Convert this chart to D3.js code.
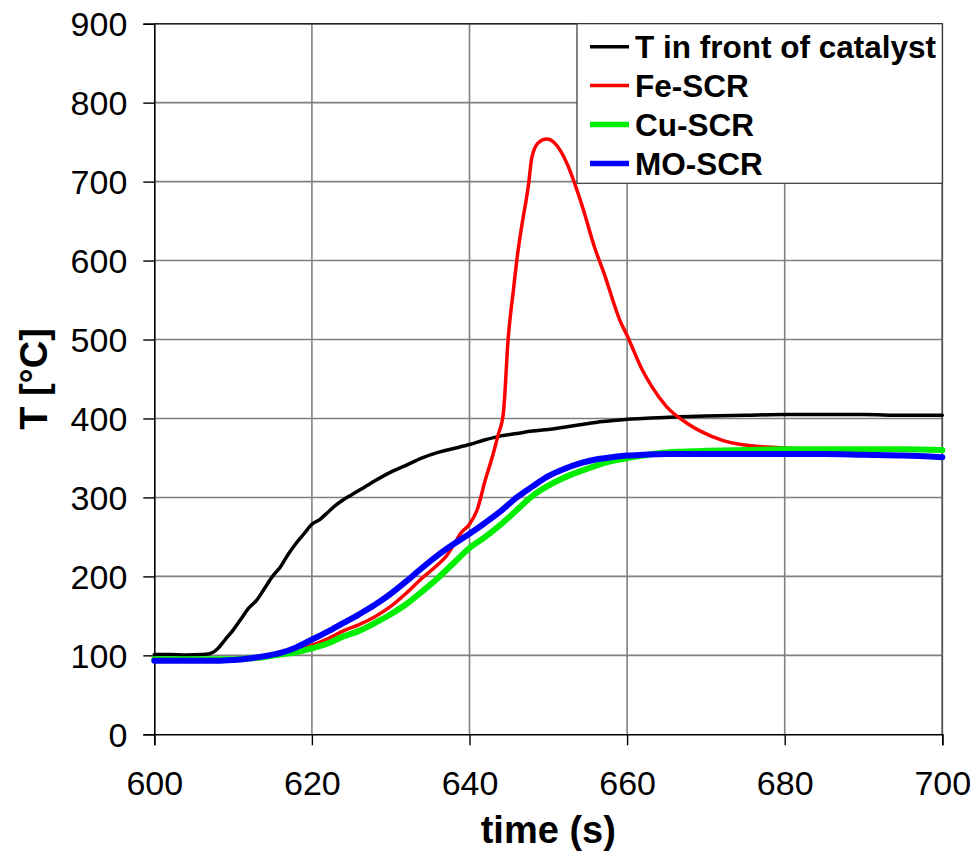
<!DOCTYPE html>
<html>
<head>
<meta charset="utf-8">
<script src="https://cdn.jsdelivr.net/npm/d3@7"></script>
<style>
  html, body { margin: 0; padding: 0; background: #fff; }
  svg { display: block; font-family: "Liberation Sans", Arial, sans-serif; }
</style>
</head>
<body>
<svg id="chart" width="973" height="852"></svg>
<script>
// Time axis (s) and temperature (°C) readings for each sensor
const tFront = [
  [600,101],[602,101],[604,100.5],[606,101],[607,102],[608,108],[609,120],[610,132],
  [611,146],[612,160],[613,170],[614,185],[615,200],[616,212],[617,228],[618,242],
  [619,254],[620,266],[621,272],[622,281],[623,290],[624,297],[625,303],[626,309],
  [627,315],[628,321],[630,332],[632,341],[634,350],[636,357],[638,362],[640,367],
  [642,373],[644,378],[646,381],[648,384],[650,386],[652,389],[654,392],[656,395],
  [658,397],[660,399],[662,400],[664,401],[666,402],[670,403],[675,404],[680,405],
  [685,405],[690,405],[695,404],[700,404]
];
const feSCR = [
  [600,94],[610,94],[614,98],[616,102],[618,107],[620,113],[622,121],[624,131],
  [626,139],[628,149],[630,162],[632,179],[634,198],[636,215],[637,225],[638,240],
  [639,256],[640,266],[641,285],[642,322],[643,355],[643.6,378],[644.3,407],[644.9,500],
  [645.6,565],[646.1,608],[646.6,642],[647.5,697],[647.9,730],[648.7,749],[649.8,754],
  [650.8,749],[652.5,720],[653.3,699],[654.4,666],[655.9,616],[657,586],[659.1,524],
  [660,505],[661.9,462],[663.1,441],[665,415],[667.6,394],[669.3,384],[672.2,372],
  [675.2,366],[679.4,363],[685,361],[690,361],[700,360]
];
const cuSCR = [
  [600,95],[604,95],[608,95],[610,95],[612,96],[614,98],[616,101],[618,104],[620,109],
  [622,115],[624,124],[626,131],[628,141],[630,152],[632,165],[634,181],[636,198],
  [638,217],[640,236],[642,250],[644,266],[646,284],[648,302],[650,315],[652,325],
  [654,333],[656,340],[658,346],[660,350],[662,353],[664,356],[667,358],[670,359],
  [675,360],[680,361],[685,361],[690,361],[695,361],[700,360]
];
const moSCR = [
  [600,93],[604,93],[608,93],[610,94],[612,96],[614,99],[616,103],[618,110],[620,120],
  [622,130],[624,141],[626,152],[628,164],[630,178],[632,194],[634,211],[636,227],
  [638,241],[640,254],[642,268],[644,283],[646,300],[648,314],[650,327],[652,336],
  [654,343],[656,348],[658,351],[660,353],[662,354],[665,355],[670,355],[675,355],
  [680,355],[685,355],[690,354],[695,353],[700,351]
];

const xTicks = [600, 620, 640, 660, 680, 700];
const yTicks = [0, 100, 200, 300, 400, 500, 600, 700, 800, 900];
const seriesNames = ["T in front of catalyst", "Fe-SCR", "Cu-SCR", "MO-SCR"];
const seriesColors = ["#000000", "#ff0000", "#00ee00", "#0000ff"];
const seriesWidths = [3.5, 3.5, 6, 6];
const seriesData = [tFront, feSCR, cuSCR, moSCR];

const svg = d3.select("#chart");
const plotL = 154.3, plotR = 942.3, plotT = 23.7, plotB = 734.3;

const x = d3.scaleLinear().domain([600, 700]).range([plotL, plotR]);
const y = d3.scaleLinear().domain([0, 900]).range([plotB, plotT]);

// Grid lines
const grid = svg.append("g");
grid.selectAll("line.h").data(yTicks.filter(d => d > 0)).join("line")
  .attr("class", "h")
  .attr("x1", plotL).attr("x2", plotR)
  .attr("y1", d => y(d)).attr("y2", d => y(d))
  .attr("stroke", "#808080").attr("stroke-width", 1.6);
grid.selectAll("line.v").data(xTicks.filter(d => d > 600)).join("line")
  .attr("class", "v")
  .attr("y1", plotT).attr("y2", plotB)
  .attr("x1", d => x(d)).attr("x2", d => x(d))
  .attr("stroke", "#808080").attr("stroke-width", 1.6);

// Top and right frame
svg.append("line").attr("x1", plotL).attr("x2", plotR).attr("y1", plotT).attr("y2", plotT)
  .attr("stroke", "#222").attr("stroke-width", 1.6);
svg.append("line").attr("x1", plotR).attr("x2", plotR).attr("y1", plotT).attr("y2", plotB)
  .attr("stroke", "#555").attr("stroke-width", 1.6);

// Axes
const xAxis = d3.axisBottom(x).tickValues(xTicks).tickSize(11).tickPadding(26)
  .tickFormat(d3.format("d"));
const yAxis = d3.axisLeft(y).tickValues(yTicks).tickSize(11).tickPadding(16)
  .tickFormat(d3.format("d"));

const gx = svg.append("g").attr("transform", `translate(0,${plotB})`).call(xAxis);
const gy = svg.append("g").attr("transform", `translate(${plotL},0)`).call(yAxis);
[gx, gy].forEach(g => {
  g.select(".domain").attr("stroke", "#000").attr("stroke-width", 1.6);
  g.selectAll(".tick line").attr("stroke", "#000").attr("stroke-width", 1.4);
  g.selectAll(".tick text").attr("fill", "#000")
    .style("font-family", "'Liberation Sans', Arial, sans-serif")
    .style("font-size", "34px");
});
gx.selectAll(".tick text").attr("dy", "0.71em");
gy.selectAll(".tick text").attr("dy", "0.35em");

// Axis titles
svg.append("text")
  .attr("x", (plotL + plotR) / 2).attr("y", 843)
  .attr("text-anchor", "middle")
  .style("font-size", "38px").style("font-weight", "bold")
  .text("time (s)");
svg.append("text")
  .attr("transform", `translate(47,${(plotT + plotB) / 2}) rotate(-90)`)
  .attr("text-anchor", "middle")
  .style("font-size", "38px").style("font-weight", "bold")
  .text("T [°C]");

// Temperature traces
const line = d3.line()
  .x(d => x(d[0])).y(d => y(d[1]))
  .curve(d3.curveMonotoneX);

svg.append("g").selectAll("path").data(seriesData).join("path")
  .attr("d", line)
  .attr("fill", "none")
  .attr("stroke", (d, i) => seriesColors[i])
  .attr("stroke-width", (d, i) => seriesWidths[i])
  .attr("stroke-linejoin", "round")
  .attr("stroke-linecap", "round");

// Legend
const lg = svg.append("g");
lg.append("rect")
  .attr("x", 577).attr("y", plotT).attr("width", plotR - 577).attr("height", 183.3 - plotT)
  .attr("fill", "#fff").attr("stroke", "#333").attr("stroke-width", 1.2);
const rows = lg.selectAll("g.row").data(seriesNames).join("g")
  .attr("class", "row")
  .attr("transform", (d, i) => `translate(0,${46.7 + i * 38.9})`);
rows.append("line")
  .attr("x1", 590).attr("x2", 629).attr("y1", 0).attr("y2", 0)
  .attr("stroke", (d, i) => seriesColors[i])
  .attr("stroke-width", (d, i) => i < 2 ? 3.5 : 5.5);
rows.append("text")
  .attr("x", 635).attr("y", 11.5)
  .style("font-size", "31.5px").style("font-weight", "bold")
  .text(d => d);
</script>
</body>
</html>
